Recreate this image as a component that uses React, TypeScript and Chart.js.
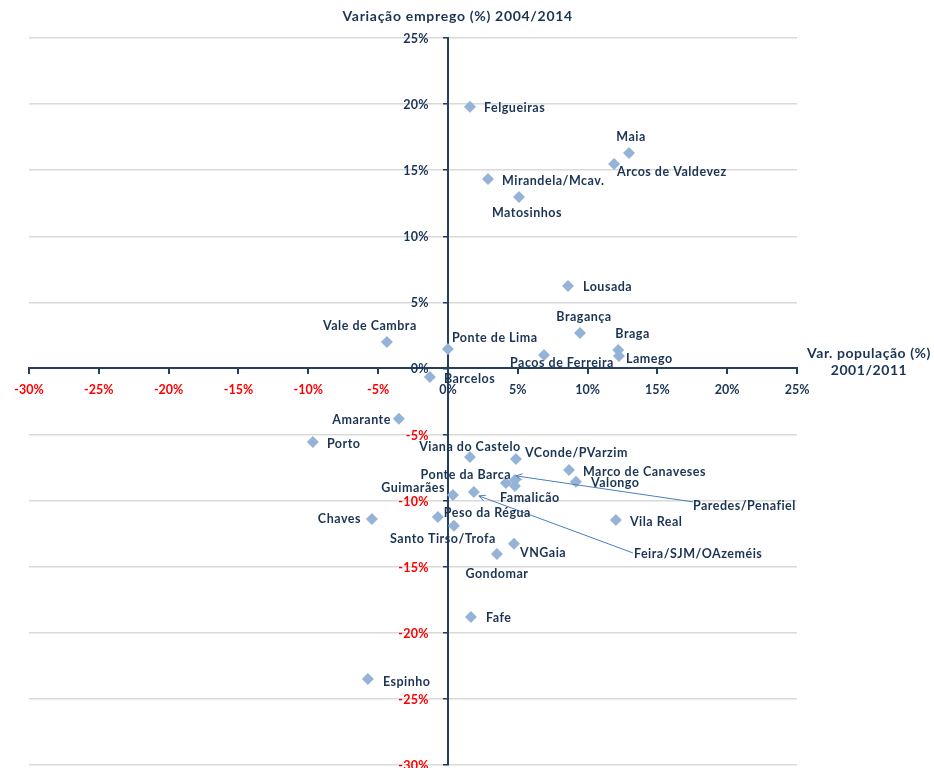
import React, { useEffect, useRef } from 'react';
import { Chart, registerables } from 'chart.js';

Chart.register(...registerables);

// ---- Data ----
const municipalities = [
  'Felgueiras', 'Maia', 'Arcos de Valdevez', 'Mirandela/Mcav.', 'Matosinhos',
  'Lousada', 'Bragança', 'Braga', 'Lamego', 'Paços de Ferreira',
  'Ponte de Lima', 'Vale de Cambra', 'Barcelos', 'Amarante', 'Porto',
  'Viana do Castelo', 'VConde/PVarzim', 'Marco de Canaveses', 'Valongo', 'Ponte da Barca',
  'Paredes/Penafiel', 'Famalicão', 'Feira/SJM/OAzeméis', 'Guimarães', 'Peso da Régua',
  'Santo Tirso/Trofa', 'Chaves', 'Vila Real', 'VNGaia', 'Gondomar',
  'Fafe', 'Espinho',
];

// Var. população (%) 2001/2011
const popChange = [
  1.58, 12.97, 11.9, 2.87, 5.09,
  8.6, 9.46, 12.2, 12.25, 6.88,
  0.0, -4.37, -1.29, -3.51, -9.67,
  1.58, 4.87, 8.67, 9.17, 4.15,
  4.8, 4.8, 1.86, 0.36, -0.72,
  0.43, -5.44, 12.03, 4.73, 3.51,
  1.65, -5.73,
];

// Variação emprego (%) 2004/2014
const empChange = [
  19.8, 16.3, 15.46, 14.33, 12.97,
  6.24, 2.68, 1.4, 0.95, 1.02,
  1.47, 2.0, -0.64, -3.8, -5.56,
  -6.69, -6.85, -7.68, -8.58, -8.66,
  -8.43, -8.89, -9.34, -9.57, -11.23,
  -11.9, -11.38, -11.46, -13.27, -14.03,
  -18.8, -23.5,
];

const xTicks = [-30, -25, -20, -15, -10, -5, 0, 5, 10, 15, 20, 25];
const yTicks = [-30, -25, -20, -15, -10, -5, 0, 5, 10, 15, 20, 25];

const yTitle = 'Variação emprego (%) 2004/2014';
const xTitleLines = ['Var. população (%)', '2001/2011'];

// ---- Styles / label placement (pixels relative to marker) ----
type Place = {
  align: CanvasTextAlign; dx: number; dy: number;
  leader?: { sx: number; sy: number; tx: number; ty: number };
};
const placement: Record<string, Place> = {
  'Felgueiras': { align: 'left', dx: 14, dy: 1 },
  'Maia': { align: 'center', dx: 2, dy: -16 },
  'Arcos de Valdevez': { align: 'left', dx: 3, dy: 8 },
  'Mirandela/Mcav.': { align: 'left', dx: 14, dy: 2 },
  'Matosinhos': { align: 'center', dx: 8, dy: 16 },
  'Lousada': { align: 'left', dx: 15, dy: 1 },
  'Bragança': { align: 'center', dx: 4, dy: -16 },
  'Braga': { align: 'left', dx: -3, dy: -16 },
  'Lamego': { align: 'left', dx: 7, dy: 3 },
  'Paços de Ferreira': { align: 'center', dx: 18, dy: 8 },
  'Ponte de Lima': { align: 'left', dx: 4, dy: -11 },
  'Vale de Cambra': { align: 'center', dx: -17, dy: -16 },
  'Barcelos': { align: 'left', dx: 14, dy: 2 },
  'Amarante': { align: 'right', dx: -8, dy: 1 },
  'Porto': { align: 'left', dx: 14, dy: 2 },
  'Viana do Castelo': { align: 'center', dx: 0, dy: -10 },
  'VConde/PVarzim': { align: 'left', dx: 9, dy: -6 },
  'Marco de Canaveses': { align: 'left', dx: 14, dy: 2 },
  'Valongo': { align: 'left', dx: 15, dy: 1 },
  'Ponte da Barca': { align: 'center', dx: -40, dy: -8 },
  'Paredes/Penafiel': { align: 'left', dx: 178, dy: 26, leader: { sx: 0, sy: -4, tx: 1, ty: -4 } },
  'Famalicão': { align: 'center', dx: 15, dy: 12 },
  'Feira/SJM/OAzeméis': { align: 'left', dx: 160, dy: 62, leader: { sx: -1, sy: -1, tx: 5, ty: 4 } },
  'Guimarães': { align: 'right', dx: -8, dy: -7 },
  'Peso da Régua': { align: 'left', dx: 6, dy: -4 },
  'Santo Tirso/Trofa': { align: 'center', dx: -11, dy: 13 },
  'Chaves': { align: 'right', dx: -11, dy: 0 },
  'Vila Real': { align: 'left', dx: 14, dy: 2 },
  'VNGaia': { align: 'left', dx: 6, dy: 9 },
  'Gondomar': { align: 'center', dx: 0, dy: 20 },
  'Fafe': { align: 'left', dx: 15, dy: 1 },
  'Espinho': { align: 'left', dx: 15, dy: 3 },
};

const FONT_FAMILY = 'Lato, "Open Sans", sans-serif';
const TEXT_COLOR = '#1B3454';
const AXIS_COLOR = '#243F60';
const GRID_COLOR = '#D9D9D9';
const MARKER_COLOR = '#95B3D7';
const LEADER_COLOR = '#4A7EBB';
const NEG_COLOR = '#FF0000';

const fmt = (v: any) => `${v}%`;

const labelPlugin = {
  id: 'pointLabels',
  beforeDatasetsDraw(chart: any) {
    // y-axis tick labels, placed left of the centred axis
    const ctx: CanvasRenderingContext2D = chart.ctx;
    const ys = chart.scales.y;
    const axisX = chart.scales.x.getPixelForValue(0);
    ctx.save();
    ctx.font = `bold 12.5px ${FONT_FAMILY}`;
    (ctx as any).letterSpacing = '0.3px';
    ctx.textAlign = 'right';
    ctx.textBaseline = 'middle';
    ys.ticks.forEach((t: any) => {
      ctx.fillStyle = t.value < 0 ? NEG_COLOR : TEXT_COLOR;
      ctx.fillText(fmt(t.value), axisX - 19, ys.getPixelForValue(t.value) + 1);
    });
    ctx.restore();
  },
  afterDatasetsDraw(chart: any) {
    const ctx: CanvasRenderingContext2D = chart.ctx;
    const meta = chart.getDatasetMeta(0);
    ctx.save();
    ctx.font = `bold 12.5px ${FONT_FAMILY}`;
    (ctx as any).letterSpacing = '0.5px';
    ctx.fillStyle = TEXT_COLOR;
    ctx.textBaseline = 'middle';
    meta.data.forEach((el: any, i: number) => {
      const name = municipalities[i];
      const p = placement[name];
      if (!p) return;
      const x = el.x + p.dx;
      const y = el.y + p.dy;
      ctx.textAlign = p.align;
      ctx.fillText(name, x, y);
      if (p.leader) {
        const sx = x + p.leader.sx, sy = y + p.leader.sy;
        const tx = el.x + p.leader.tx, ty = el.y + p.leader.ty;
        ctx.strokeStyle = LEADER_COLOR;
        ctx.lineWidth = 1;
        ctx.beginPath();
        ctx.moveTo(sx, sy);
        ctx.lineTo(tx, ty);
        const ang = Math.atan2(sy - ty, sx - tx);
        const L = 7, a = 0.45;
        ctx.moveTo(tx + L * Math.cos(ang + a), ty + L * Math.sin(ang + a));
        ctx.lineTo(tx, ty);
        ctx.lineTo(tx + L * Math.cos(ang - a), ty + L * Math.sin(ang - a));
        ctx.stroke();
      }
    });
    ctx.restore();
  },
  afterDraw(chart: any) {
    const ctx: CanvasRenderingContext2D = chart.ctx;
    const area = chart.chartArea;
    ctx.save();
    ctx.fillStyle = TEXT_COLOR;
    ctx.textBaseline = 'middle';
    ctx.textAlign = 'center';
    ctx.font = `bold 14px ${FONT_FAMILY}`;
    (ctx as any).letterSpacing = '0.7px';
    ctx.fillText(yTitle, chart.scales.x.getPixelForValue(0.7), area.top - 22);
    const zeroY = chart.scales.y.getPixelForValue(0);
    ctx.font = `bold 14px ${FONT_FAMILY}`;
    (ctx as any).letterSpacing = '0.55px';
    const cx = 869;
    ctx.fillText(xTitleLines[0], cx, zeroY - 15);
    ctx.fillText(xTitleLines[1], cx, zeroY + 2);
    ctx.restore();
  },
};

const tickColor = (c: any) => (c.tick && c.tick.value < 0 ? NEG_COLOR : TEXT_COLOR);

export default function App() {
  const ref = useRef<HTMLCanvasElement | null>(null);
  useEffect(() => {
    if (!ref.current) return;
    const chart = new Chart(ref.current, {
      type: 'scatter',
      data: {
        datasets: [{
          label: 'Municípios',
          data: popChange.map((x, i) => ({ x, y: empChange[i] })),
          pointStyle: 'rectRot',
          pointRadius: 6,
          pointHoverRadius: 6,
          backgroundColor: MARKER_COLOR,
          borderColor: MARKER_COLOR,
          borderWidth: 0,
        }],
      },
      options: {
        responsive: false,
        animation: false,
        events: [],
        layout: { autoPadding: false, padding: { left: 29, right: 137, top: 38, bottom: 3 } },
        plugins: { legend: { display: false }, tooltip: { enabled: false }, title: { display: false } },
        scales: {
          x: {
            type: 'linear',
            position: { y: 0 } as any,
            min: -30, max: 25,
            afterBuildTicks: (s: any) => { s.ticks = xTicks.map((v) => ({ value: v })); },
            afterFit: (s: any) => { s.paddingLeft = 0; s.paddingRight = 0; s.paddingTop = 0; s.paddingBottom = 0; },
            border: { display: true, color: AXIS_COLOR, width: 2 },
            grid: { drawOnChartArea: false, drawTicks: true, tickLength: 5, tickColor: AXIS_COLOR, lineWidth: 2 },
            ticks: {
              autoSkip: false, maxRotation: 0, padding: 9,
              color: tickColor,
              font: { family: FONT_FAMILY, size: 12.5, weight: 'bold' },
              callback: fmt,
            },
          },
          y: {
            type: 'linear',
            position: { x: 0 } as any,
            min: -30, max: 25,
            afterBuildTicks: (s: any) => { s.ticks = yTicks.map((v) => ({ value: v })); },
            afterFit: (s: any) => { s.paddingLeft = 0; s.paddingRight = 0; s.paddingTop = 0; s.paddingBottom = 0; },
            border: { display: true, color: AXIS_COLOR, width: 2 },
            grid: {
              drawOnChartArea: true, drawTicks: true, tickLength: 4,
              color: (c: any) => (c.tick && c.tick.value === 0 ? 'rgba(0,0,0,0)' : GRID_COLOR),
              tickColor: AXIS_COLOR, lineWidth: 1.5,
            },
            ticks: { display: false, autoSkip: false },
          },
        },
      },
      plugins: [labelPlugin],
    });
    return () => chart.destroy();
  }, []);
  return (
    <div style={{ position: 'absolute', left: 0, top: 0, width: 934, height: 768, background: '#fff' }}>
      <canvas ref={ref} width={934} height={768} />
    </div>
  );
}
